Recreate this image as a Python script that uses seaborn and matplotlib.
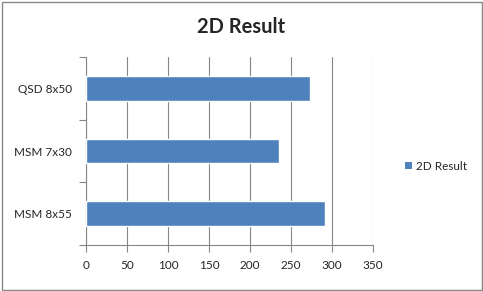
import matplotlib
matplotlib.use("Agg")
import matplotlib.pyplot as plt
import seaborn as sns
import pandas as pd
from matplotlib.patches import Rectangle

categories = ["QSD 8x50", "MSM 7x30", "MSM 8x55"]
values = [273, 235, 291]
series_name = "2D Result"
xticks = [0, 50, 100, 150, 200, 250, 300, 350]

sns.set_style("white")
plt.rcParams['font.family'] = ['Lato', 'DejaVu Sans']

df = pd.DataFrame({"cat": categories, "val": values})

fig = plt.figure(figsize=(4.83, 2.91), dpi=100)
ax = fig.add_axes([86/483, 1-245/291, (373-86)/483, (245-57)/291])

sns.barplot(data=df, x="val", y="cat", orient="h", color="#4F81BD",
            saturation=1, width=0.39, ax=ax, label=series_name, zorder=3)
if ax.get_legend() is not None:
    ax.get_legend().remove()

ax.set_xlim(0, 350)
ax.set_ylim(2.5, -0.5)
ax.set_xticks(xticks)
ax.set_xticklabels([str(t) for t in xticks], fontsize=8.5)
ax.set_yticks([-0.5, 0.5, 1.5, 2.5], minor=False)
ax.set_yticklabels([])
ax.set_yticks([0, 1, 2], minor=True)
ax.set_yticklabels(categories, minor=True, fontsize=8.5)
ax.tick_params(axis='y', which='minor', length=0, pad=10)
ax.tick_params(axis='y', which='major', length=5, width=0.8, color="#868686", direction='out', left=True)
ax.tick_params(axis='x', length=5, width=0.8, color="#868686", direction='out', bottom=True, pad=6)
ax.set_xlabel("")
ax.set_ylabel("")
ax.grid(axis='x', color="#868686", linewidth=0.8, zorder=0)
ax.set_axisbelow(True)
for s in ["top", "right"]:
    ax.spines[s].set_visible(False)
for s in ["left", "bottom"]:
    ax.spines[s].set_color("#868686")
    ax.spines[s].set_linewidth(0.8)

fig.suptitle(series_name, x=241/483, y=1-27/291, va='center', fontsize=14.5, fontweight='bold')

handles, labels = ax.get_legend_handles_labels()
leg = fig.legend(handles[:1], labels[:1], loc='center left', bbox_to_anchor=(405/483, 1-166/291),
                 frameon=False, fontsize=8.5, handlelength=0.6, handleheight=0.6,
                 handletextpad=0.35, borderaxespad=0, borderpad=0)
for h in leg.legend_handles:
    h.set_linewidth(0)
    h.set_edgecolor("none")

fig.patches.append(Rectangle((1.5/483, 1.5/291), 1-3/483, 1-3/291, transform=fig.transFigure,
                             fill=False, edgecolor="#888888", linewidth=1.0))

fig.savefig("out.png", dpi=100)
